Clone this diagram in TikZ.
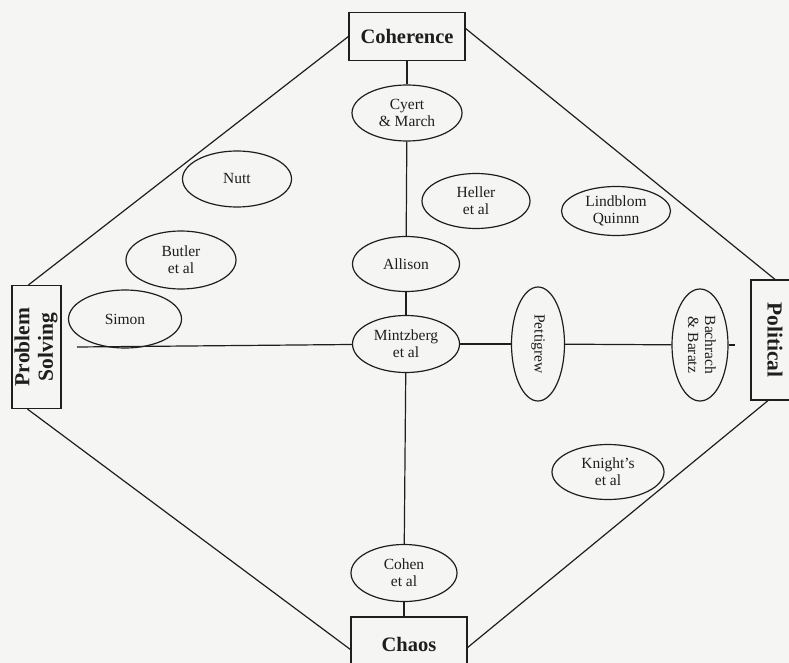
\documentclass[tikz,border=0pt]{standalone}
\usepackage{fontspec}
\setmainfont{Liberation Serif}
\usetikzlibrary{shapes.geometric}
\definecolor{paper}{RGB}{245,245,243}
\definecolor{ink}{RGB}{30,30,30}
\begin{document}
\begin{tikzpicture}[x=1pt,y=-1pt,
  every node/.style={text=ink},
  oval/.style={ellipse, draw=ink, line width=1.2pt, inner sep=0pt,
    font=\fontsize{15.5}{17}\selectfont, align=center},
  pole/.style={rectangle, draw=ink, line width=1.2pt, inner sep=0pt,
    font=\fontsize{20.5}{23}\selectfont\bfseries, align=center},
  side/.style={pole, font=\fontsize{21.5}{23.5}\selectfont\bfseries},
  link/.style={draw=ink, line width=1.2pt}]
\useasboundingbox (0,0) rectangle (789,663);
\fill[paper] (0,0) rectangle (789,663);
\clip (0,0) rectangle (789,663);

% the four poles
\node[pole, minimum width=116, minimum height=48] (coh) at (407,36.5) {Coherence};
\node[side, minimum width=49, minimum height=123] (ps) at (36.5,347)
  {\rotatebox{90}{\begin{tabular}{@{}c@{}}Problem\\Solving\end{tabular}}};
\node[side, minimum width=48, minimum height=120] (pol) at (775,340)
  {\rotatebox{-90}{Political}};
\node[pole, minimum width=116, minimum height=55] (chaos) at (409,644.5) {Chaos};

% authors
\node[oval, minimum width=110, minimum height=56] (cyert)   at (407,113) {Cyert\\\& March};
\node[oval, minimum width=109, minimum height=56] (nutt)    at (237,179) {Nutt};
\node[oval, minimum width=108, minimum height=55] (heller)  at (476,201) {Heller\\et al};
\node[oval, minimum width=109, minimum height=49] (lind)    at (616,211) {Lindblom\\Quinnn};
\node[oval, minimum width=110, minimum height=58] (butler)  at (181,260) {Butler\\et al};
\node[oval, minimum width=107, minimum height=55] (allison) at (406,264) {Allison};
\node[oval, minimum width=113, minimum height=58] (simon)   at (125,319) {Simon};
\node[oval, minimum width=107, minimum height=57] (mint)    at (406,344) {Mintzberg\\et al};
\node[oval, minimum width=53, minimum height=114] (pet)     at (538,344)
  {\rotatebox{-90}{Pettigrew}};
\node[oval, minimum width=56, minimum height=112] (bach)    at (700,345)
  {\rotatebox{-90}{\begin{tabular}{@{}c@{}}Bachrach\\\& Baratz\end{tabular}}};
\node[oval, minimum width=112, minimum height=55] (knight)  at (608,472) {Knight's\\et al};
\node[oval, minimum width=106, minimum height=57] (cohen)   at (404,573) {Cohen\\et al};

% vertical axis
\draw[link] (coh) -- (cyert);
\draw[link] (cyert) -- (allison);
\draw[link] (allison) -- (mint);
\draw[link] (mint) -- (cohen);
\draw[link] (cohen) -- (cohen |- chaos.north);

% horizontal axis
\coordinate (hl) at (77,347);
\coordinate (hr) at (735,345);
\draw[link] (hl) -- (mint);
\draw[link] (mint) -- (pet);
\draw[link] (pet) -- (bach);
\draw[link] (bach) -- (hr);

% outer diamond
\draw[link] (coh.west) -- ([xshift=-8pt]ps.north);
\draw[link] ([yshift=8pt]coh.east) -- (pol.north);
\draw[link] ([xshift=-9pt]ps.south) -- ([yshift=-5pt]chaos.west);
\draw[link] ([xshift=-7pt]pol.south) -- ([yshift=-3pt]chaos.east);
\end{tikzpicture}
\end{document}
